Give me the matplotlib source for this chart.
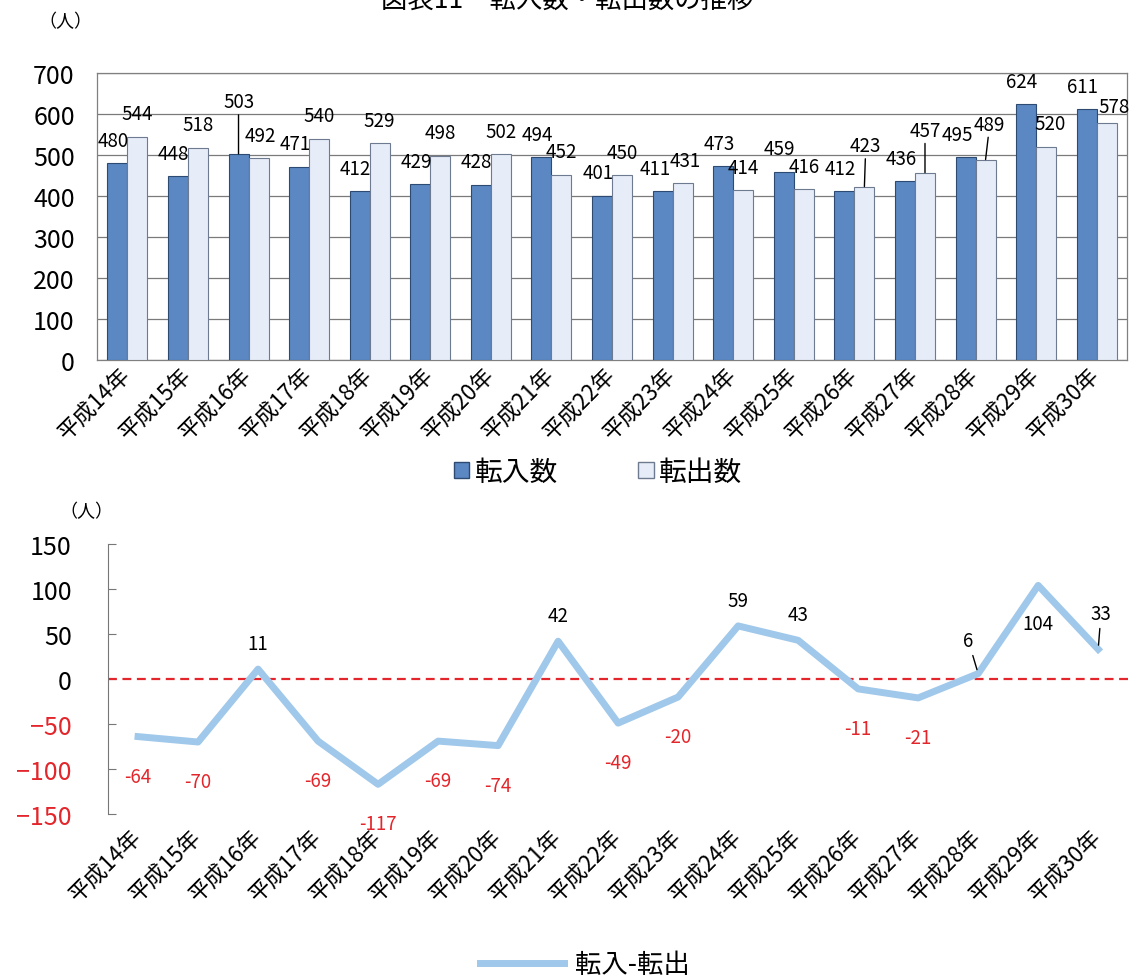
import numpy as np
import matplotlib
matplotlib.use('Agg')
import matplotlib.pyplot as plt
from matplotlib.patches import Patch
from matplotlib.lines import Line2D

plt.rcParams['font.family'] = ['Noto Sans CJK JP', 'DejaVu Sans']

years = ['平成14年', '平成15年', '平成16年', '平成17年', '平成18年', '平成19年',
         '平成20年', '平成21年', '平成22年', '平成23年', '平成24年', '平成25年',
         '平成26年', '平成27年', '平成28年', '平成29年', '平成30年']
tennyu = [480, 448, 503, 471, 412, 429, 428, 494, 401, 411, 473, 459, 412, 436, 495, 624, 611]
tenshutsu = [544, 518, 492, 540, 529, 498, 502, 452, 450, 431, 414, 416, 423, 457, 489, 520, 578]
diff = [-64, -70, 11, -69, -117, -69, -74, 42, -49, -20, 59, 43, -11, -21, 6, 104, 33]

dark = '#5b88c2'
dark_edge = '#2d4a73'
light = '#e6edf8'
light_edge = '#6d7a90'
line_c = '#a0c8ea'
red = '#e3262b'

fig = plt.figure(figsize=(11.35, 9.79), dpi=100)

# title, clipped at the top like the scan
fig.text(0.50, 1.0, '図表11　転入数・転出数の推移', ha='center', va='center', fontsize=19)

# ---------------- top: bar chart ----------------
ax1 = fig.add_axes([0.0855, 0.6313, 0.9075, 0.2931])
x = np.arange(len(years))
w = 0.33
ax1.bar(x - 0.165, tennyu, w, color=dark, edgecolor=dark_edge, linewidth=0.8, zorder=3)
ax1.bar(x + 0.165, tenshutsu, w, color=light, edgecolor=light_edge, linewidth=0.8, zorder=3)
ax1.set_xlim(-0.5, 16.5)
ax1.set_ylim(0, 700)
ax1.set_yticks(range(0, 701, 100))
ax1.yaxis.grid(True, color='#7a7a7a', linewidth=0.9, zorder=0)
ax1.tick_params(axis='y', length=0, labelsize=18, pad=16)
ax1.tick_params(axis='x', length=0, pad=8)
ax1.set_xticks(x)
ax1.set_xticklabels(years, rotation=45, ha='right', va='center', rotation_mode='anchor',
                    fontsize=16)
for s in ax1.spines.values():
    s.set_color('#808080')
    s.set_linewidth(0.9)
fig.text(0.034, 0.977, '（人）', fontsize=13, va='center')

# value labels; (dx, dy) offsets in points, default just above the bar
lead = dict(arrowstyle='-', lw=1.0, color='black', shrinkA=0, shrinkB=0)
off_in = {2: (0, 30), 9: (-5, 9), 14: (-6, 9)}
off_out = {2: (1, 9), 9: (2, 9), 12: (1, 22), 13: (0, 23), 14: (3, 18), 15: (3, 9), 16: (5, 4)}
for i in range(len(years)):
    dx, dy = off_in.get(i, (-3, 9))
    ax1.annotate(str(tennyu[i]), (x[i] - 0.165, tennyu[i]), xytext=(dx, dy),
                 textcoords='offset points', ha='center', va='bottom', fontsize=13.5,
                 arrowprops=lead if i == 2 else None)
    dx, dy = off_out.get(i, (0, 9))
    ax1.annotate(str(tenshutsu[i]), (x[i] + 0.165, tenshutsu[i]), xytext=(dx, dy),
                 textcoords='offset points', ha='center', va='bottom', fontsize=13.5,
                 arrowprops=lead if i in (12, 13, 14) else None)

fig.legend(handles=[Patch(facecolor=dark, edgecolor=dark_edge, label='転入数'),
                    Patch(facecolor=light, edgecolor=light_edge, label='転出数')],
           loc='center', bbox_to_anchor=(0.527, 0.517), ncol=2, frameon=False,
           prop={'size': 20}, handlelength=0.55, handleheight=0.55,
           handletextpad=0.2, columnspacing=2.9)

# ---------------- bottom: line chart ----------------
ax2 = fig.add_axes([0.0952, 0.1675, 0.9004, 0.2758])
ax2.plot(x, diff, color=line_c, linewidth=5, zorder=3)
ax2.axhline(0, color=red, linestyle=(0, (4, 2.5)), linewidth=1.6, zorder=2)
ax2.set_xlim(-0.5, 16.53)
ax2.set_ylim(-150, 150)
ax2.set_yticks(range(-150, 151, 50))
for s in ['top', 'right', 'bottom']:
    ax2.spines[s].set_visible(False)
ax2.spines['left'].set_color('#777777')
ax2.tick_params(axis='y', direction='in', length=6, color='#777777', labelsize=18, pad=26)
ax2.tick_params(axis='x', length=0, pad=14)
ax2.set_xticks(x)
ax2.set_xticklabels(years, rotation=45, ha='right', va='center', rotation_mode='anchor',
                    fontsize=16)
for lab, v in zip(ax2.get_yticklabels(), range(-150, 151, 50)):
    lab.set_color(red if v < 0 else 'black')
fig.text(0.052, 0.477, '（人）', fontsize=13, va='center')

off_pos = {14: (-7, 16), 15: (0, -20), 16: (2, 18)}
for i, v in enumerate(diff):
    if v >= 0:
        dx, dy = off_pos.get(i, (0, 11))
        ax2.annotate(str(v), (x[i], v), xytext=(dx, dy), textcoords='offset points',
                     ha='center', va='top' if dy < 0 else 'bottom', fontsize=13.5,
                     color='black',
                     arrowprops=dict(arrowstyle='-', lw=1.0, color='black', shrinkA=1, shrinkB=3)
                     if i in (14, 16) else None)
    else:
        ax2.annotate('-' + str(-v), (x[i], v), xytext=(0, -21),
                     textcoords='offset points', ha='center', va='top', fontsize=13.5,
                     color=red)

fig.legend(handles=[Line2D([0], [0], color=line_c, linewidth=5, label='転入-転出')],
           loc='center', bbox_to_anchor=(0.515, 0.014), frameon=False,
           prop={'size': 19}, handlelength=3.2, handletextpad=0.4)

fig.savefig('out.png', dpi=100)
